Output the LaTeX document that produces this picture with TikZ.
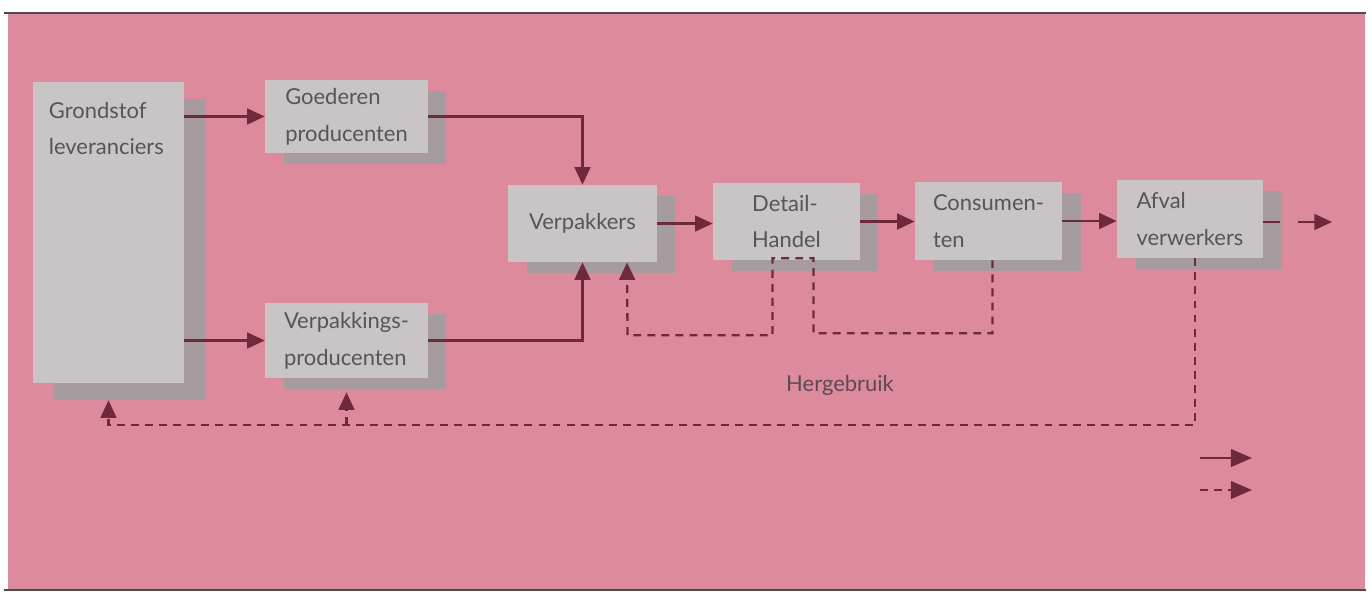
\documentclass[tikz,border=0pt]{standalone}
\usepackage{fontspec}
\setmainfont{Lato}
\usetikzlibrary{arrows.meta,calc,shadows}
\definecolor{roze}{RGB}{220,138,156}
\definecolor{grijslicht}{RGB}{201,196,198}
\definecolor{grijsdonker}{RGB}{166,156,160}
\definecolor{pijlrood}{RGB}{110,42,58}
\definecolor{tekstgrijs}{RGB}{90,84,88}

\begin{document}
\begin{tikzpicture}[x=0.02cm,y=-0.02cm]%
  \tikzstyle{boxn}=[rectangle,fill=grijslicht,inner sep=0,align=left,text=tekstgrijs,font=\fontsize{12.5}{21}\selectfont]
  \tikzstyle{schaduw}=[drop shadow={shadow xshift=0.37cm,shadow yshift=-0.22cm,fill=grijsdonker,opacity=1}]
  \tikzstyle{pijl}=[draw=pijlrood,line width=1.3pt,-{Triangle[length=10pt,width=9pt]}]
  \tikzstyle{stip}=[pijl,dash pattern=on 4.5pt off 3.5pt]
  \tikzstyle{legenda}=[pijl,-{Triangle[length=12pt,width=10pt]}]
  % achtergrond
  \useasboundingbox (0,0) rectangle (1371,594);
  \fill[roze] (8,13) rectangle (1365,590);
  \draw[line width=1.2pt,black!70] (4,13) -- (1366,13);
  \draw[line width=1.2pt,black!70] (4,590) -- (1366,590);
  % kasten
  \node(grond)[boxn,minimum width=3.02cm,minimum height=6.02cm,
    drop shadow={shadow xshift=0.42cm,shadow yshift=-0.34cm,fill=grijsdonker,opacity=1},
    label={[anchor=north west,align=left,text=tekstgrijs,font=\fontsize{12.5}{21}\selectfont,xshift=0.2cm,yshift=-0.28cm]north west:Grondstof\\leveranciers}]
    at (108.5,232.5) {};
  \node(goed)[boxn,schaduw,minimum width=3.26cm,minimum height=1.46cm] at (346.5,116.5) {Goederen\\producenten};
  \node(vpp)[boxn,schaduw,minimum width=3.26cm,minimum height=1.5cm] at (346.5,340.5) {Verpakkings-\\producenten};
  \node(verp)[boxn,schaduw,minimum width=2.98cm,minimum height=1.54cm] at (582.5,223.5) {Verpakkers};
  \node(detail)[boxn,schaduw,minimum width=2.94cm,minimum height=1.54cm] at (786.5,221.5) {Detail-\\Handel};
  \node(cons)[boxn,schaduw,minimum width=2.94cm,minimum height=1.56cm] at (988.5,221) {Consumen-\\ten};
  \node(afval)[boxn,schaduw,minimum width=2.92cm,minimum height=1.56cm] at (1190,219) {Afval\\verwerkers};
  \node(herg)[text=tekstgrijs!80!pijlrood,font=\fontsize{12.5}{21}\selectfont] at (840,385) {Hergebruik};
  % goederenstroom
  \draw[pijl] (grond.east |- goed.west) -- (goed.west);
  \draw[pijl] (grond.east |- vpp.west) -- (vpp.west);
  \draw[pijl] (goed.east) -| (verp.north);
  \draw[pijl] (vpp.east) -| (verp.south);
  \draw[pijl] (verp.east) -- (verp.east -| detail.west);
  \draw[pijl] (detail.east) -- (detail.east -| cons.west);
  \draw[pijl] (cons.east) -- (cons.east -| afval.west);
  \coordinate(uit) at (1332,222);
  \draw[pijl,dash pattern=on 0.34cm off 0.36cm on 3cm] (afval.east |- uit) -- (uit);
  % hergebruik
  \coordinate(knik) at (vpp.south |- 0,425);
  \draw[stip] ($(afval.south)+(5,0)$) |- (knik) -| ($(grond.south)+(0,17)$);
  \draw[stip] (knik) -- ($(vpp.south)+(0,14)$);
  \draw[stip] ($(cons.south)+(4,0)$) |- ($(detail.south)+(27,73)$) -- ($(detail.south)+(27,-2)$)
    -- ($(detail.south)+(-14,-2)$) |- ($(verp.south)+(45,73)$) -- (verp.south -| 627,0);
  % legenda
  \coordinate(l1a) at (1200,458); \coordinate(l1b) at (1252,458);
  \coordinate(l2a) at (1200,490); \coordinate(l2b) at (1252,490);
  \draw[legenda] (l1a) -- (l1b);
  \draw[legenda,dash pattern=on 4.5pt off 3.5pt] (l2a) -- (l2b);
\end{tikzpicture}
\end{document}
